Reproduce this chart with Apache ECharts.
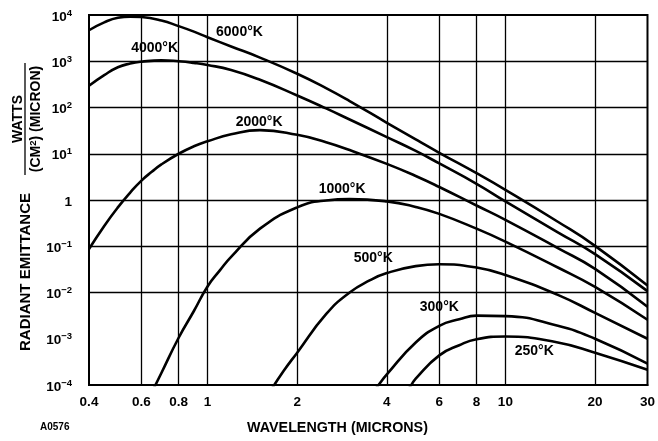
<!DOCTYPE html>
<html>
<head>
<meta charset="utf-8">
<script src="https://cdn.jsdelivr.net/npm/echarts@6/dist/echarts.min.js"></script>
<style>
html,body{margin:0;padding:0;background:#fff;}
#chart{width:658px;height:441px;}
</style>
</head>
<body>
<div id="chart"></div>
<script>
// ---- data (wavelength in microns, emittance in W/(cm^2·micron)) ----
const wl6000 = [0.4, 0.45, 0.5, 0.55, 0.6, 0.7, 0.8, 0.9, 1, 1.2, 1.5, 2, 2.5, 3, 4, 5, 6, 8, 10, 15, 20, 30];
const val6000 = [4680, 6920, 8710, 9230, 9020, 7590, 5750, 4370, 3310, 2090, 1200, 537, 263, 138, 46.8, 20.4, 10.5, 3.8, 1.66, 0.339, 0.102, 0.0141];

const wl4000 = [0.4, 0.45, 0.5, 0.55, 0.6, 0.7, 0.8, 0.9, 1, 1.2, 1.5, 2, 2.5, 3, 4, 5, 6, 8, 10, 15, 20, 30];
const val4000 = [295, 500, 741, 891, 977, 1047, 1000, 923, 832, 646, 398, 182, 95.5, 55, 22.9, 11.5, 6.17, 2.24, 0.933, 0.2, 0.0676, 0.0107];

const wl2000 = [0.4, 0.45, 0.5, 0.55, 0.6, 0.65, 0.7, 0.8, 0.9, 1, 1.2, 1.5, 2, 2.5, 3, 4, 5, 6, 8, 10, 15, 20, 30];
const val2000 = [0.087, 0.275, 0.692, 1.45, 2.63, 4.07, 5.89, 10, 14.5, 18.6, 26.3, 32.4, 25.7, 17.8, 12.0, 6.03, 3.31, 1.91, 0.759, 0.372, 0.0912, 0.0324, 0.0049];

const wl1000 = [0.65, 0.7, 0.8, 0.9, 1, 1.1, 1.2, 1.5, 2, 2.5, 3, 4, 5, 6, 8, 10, 15, 20, 30];
const val1000 = [0.000069, 0.000182, 0.00105, 0.00398, 0.0135, 0.030, 0.0589, 0.24, 0.692, 0.977, 1.047, 0.933, 0.708, 0.501, 0.24, 0.126, 0.0347, 0.0132, 0.00257];

const wl500 = [1.6, 1.8, 2, 2.5, 3, 3.5, 4, 5, 6, 8, 10, 15, 20, 30];
const val500 = [0.000063, 0.0002, 0.0005, 0.00339, 0.01, 0.0182, 0.0263, 0.0372, 0.0407, 0.0347, 0.024, 0.0089, 0.00363, 0.001];

const wl300 = [3.6, 3.75, 4, 5, 6, 7, 8, 10, 15, 20, 30];
const val300 = [0.000071, 0.0001, 0.00017, 0.00083, 0.0019, 0.00263, 0.00316, 0.00309, 0.0019, 0.001, 0.00029];

const wl250 = [4.6, 4.83, 5, 6, 7, 8, 10, 15, 20, 30];
const val250 = [0.000065, 0.0001, 0.000138, 0.000437, 0.000724, 0.000977, 0.00112, 0.00083, 0.0005, 0.000214];

const xTickLabels = [0.4, 0.6, 0.8, 1, 2, 4, 6, 8, 10, 20, 30];
const xGridValues = [0.6, 0.8, 1, 2, 4, 6, 8, 10, 20];
const yTickValues = [1e-4, 1e-3, 1e-2, 1e-1, 1, 1e1, 1e2, 1e3, 1e4];
const yGridValues = [1e-3, 1e-2, 1e-1, 1, 1e1, 1e2, 1e3];

const FONT = 'Liberation Sans, Arial, Helvetica, sans-serif';

function pairs(xs, ys) { return xs.map((x, i) => [x, ys[i]]); }

function curve(name, xs, ys, labelCoord) {
  return {
    type: 'line',
    name: name,
    data: pairs(xs, ys),
    showSymbol: false,
    symbol: 'none',
    smooth: 0.5,
    clip: true,
    z: 5,
    lineStyle: { color: '#000', width: 2.6 },
    silent: true,
    markPoint: {
      symbol: 'circle',
      symbolSize: 0,
      silent: true,
      itemStyle: { color: 'rgba(0,0,0,0)' },
      label: {
        show: true, position: 'inside', formatter: name,
        color: '#000', fontFamily: FONT, fontWeight: 'bold', fontSize: 14
      },
      data: [{ coord: labelCoord }]
    }
  };
}

const chart = echarts.init(document.getElementById('chart'), null, { renderer: 'canvas' });

chart.setOption({
  animation: false,
  backgroundColor: '#fff',
  grid: {
    left: 89, right: 10, top: 15, bottom: 56,
    show: true, borderColor: '#000', borderWidth: 2, backgroundColor: 'transparent'
  },
  xAxis: {
    type: 'log', logBase: 10, min: 0.4, max: 30,
    axisLine: { show: true, lineStyle: { color: '#000', width: 2 } },
    axisTick: { show: false },
    splitLine: { show: false },
    minorSplitLine: { show: false },
    axisLabel: {
      customValues: xTickLabels,
      formatter: v => String(v),
      color: '#000', fontFamily: FONT, fontWeight: 'bold', fontSize: 13.5, margin: 10
    }
  },
  yAxis: {
    type: 'log', logBase: 10, min: 1e-4, max: 1e4,
    axisLine: { show: true, lineStyle: { color: '#000', width: 2 } },
    axisTick: { show: false },
    splitLine: { show: false },
    axisLabel: {
      customValues: yTickValues,
      margin: 17,
      formatter: v => {
        const e = Math.round(Math.log10(v));
        if (e === 0) return '{b|1}';
        const s = e < 0 ? '\u2212' + (-e) : String(e);
        return '{b|10}{s|' + s + '}';
      },
      rich: {
        b: { color: '#000', fontFamily: FONT, fontWeight: 'bold', fontSize: 13.5, lineHeight: 14, padding: [4, 0, 0, 0] },
        s: { color: '#000', fontFamily: FONT, fontWeight: 'bold', fontSize: 9.5, lineHeight: 10, verticalAlign: 'top' }
      }
    }
  },
  series: [
    {
      type: 'line', data: [], silent: true, z: 1,
      markLine: {
        silent: true, symbol: ['none', 'none'], animation: false,
        label: { show: false },
        lineStyle: { color: '#000', width: 1.3, type: 'solid' },
        data: xGridValues.map(v => ({ xAxis: v })).concat(yGridValues.map(v => ({ yAxis: v })))
      }
    },
    curve('6000°K', wl6000, val6000, [1.28, 4300]),
    curve('4000°K', wl4000, val4000, [0.664, 1900]),
    curve('2000°K', wl2000, val2000, [1.49, 48]),
    curve('1000°K', wl1000, val1000, [2.83, 1.7]),
    curve('500°K', wl500, val500, [3.6, 0.054]),
    curve('300°K', wl300, val300, [6.0, 0.0049]),
    curve('250°K', wl250, val250, [12.5, 0.00054])
  ],
  graphic: [
    {
      type: 'text', x: 25.5, y: 272, rotation: Math.PI / 2, silent: true,
      style: { text: 'RADIANT EMITTANCE', fill: '#000', font: 'bold 15px ' + FONT,
        align: 'center', verticalAlign: 'middle', textAlign: 'center', textVerticalAlign: 'middle' }
    },
    {
      type: 'text', x: 18, y: 119, rotation: Math.PI / 2, silent: true,
      style: { text: 'WATTS', fill: '#000', font: 'bold 14px ' + FONT,
        align: 'center', verticalAlign: 'middle', textAlign: 'center', textVerticalAlign: 'middle' }
    },
    {
      type: 'line', silent: true,
      shape: { x1: 25, y1: 63, x2: 25, y2: 175 },
      style: { stroke: '#000', lineWidth: 1.3 }
    },
    {
      type: 'text', x: 35, y: 119, rotation: Math.PI / 2, silent: true,
      style: {
        text: '{n|(CM}{s|2}{n|) (MICRON)}', fill: '#000',
        align: 'center', verticalAlign: 'middle', textAlign: 'center', textVerticalAlign: 'middle',
        rich: {
          n: { fill: '#000', color: '#000', fontFamily: FONT, fontWeight: 'bold', fontSize: 14, lineHeight: 14, padding: [3, 0, 0, 0] },
          s: { fill: '#000', color: '#000', fontFamily: FONT, fontWeight: 'bold', fontSize: 9.5, lineHeight: 10, verticalAlign: 'top' }
        }
      }
    },
    {
      type: 'text', x: 337.5, y: 428, silent: true,
      style: { text: 'WAVELENGTH (MICRONS)', fill: '#000', font: 'bold 14.3px ' + FONT,
        align: 'center', verticalAlign: 'middle', textAlign: 'center', textVerticalAlign: 'middle' }
    },
    {
      type: 'text', x: 40, y: 427, silent: true,
      style: { text: 'A0576', fill: '#000', font: 'bold 10px ' + FONT,
        align: 'left', verticalAlign: 'middle', textAlign: 'left', textVerticalAlign: 'middle' }
    }
  ]
});
</script>
</body>
</html>
